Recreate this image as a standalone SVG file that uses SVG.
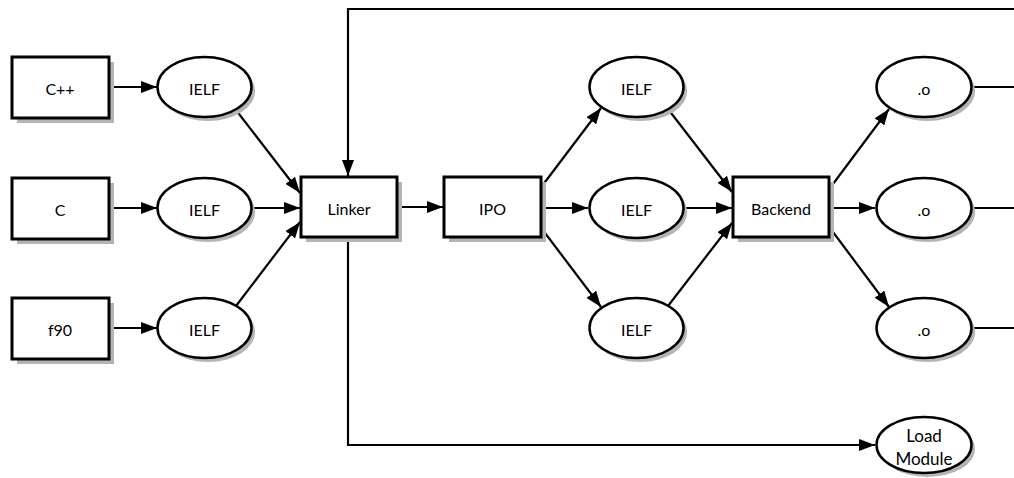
<svg xmlns="http://www.w3.org/2000/svg" width="1014" height="478" viewBox="0 0 1014 478">
  <style>
    .box { fill: #fff; stroke: #000; stroke-width: 3; }
    .ell { fill: #fff; stroke: #000; stroke-width: 2.5; }
    .shadow { fill: #b4b4b4; stroke: none; }
    .lbl { font-family: "Lato", "Liberation Sans", sans-serif; font-size: 16px; fill: #000; text-anchor: middle; dominant-baseline: central; }
    .big { font-size: 17px; }
    .edge { fill: none; stroke: #000; stroke-width: 2.2; }
    .arr { marker-end: url(#head); }
  </style>
  <defs>
    <marker id="head" viewBox="0 0 16 12" refX="16" refY="6" markerWidth="16" markerHeight="12" markerUnits="userSpaceOnUse" orient="auto">
      <path d="M0,0 L16,6 L0,12 Z" fill="#000"/>
    </marker>
  </defs>
  <rect width="1014" height="478" fill="#fff"/>

  <!-- connectors -->
  <g id="connectors">
    <line class="edge arr" x1="109" y1="87" x2="157" y2="87"/>
    <line class="edge arr" x1="109" y1="208" x2="157" y2="208"/>
    <line class="edge arr" x1="109" y1="328" x2="157" y2="328"/>
    <line class="edge arr" x1="236" y1="110" x2="300" y2="193"/>
    <line class="edge arr" x1="252" y1="208" x2="300" y2="208"/>
    <line class="edge arr" x1="236" y1="306" x2="300" y2="222"/>
    <polyline class="edge arr" points="1014,9 348,9 348,176"/>
    <polyline class="edge arr" points="348,238 348,445 875,445"/>
    <line class="edge arr" x1="398" y1="207" x2="443" y2="207"/>
    <line class="edge arr" x1="542" y1="186" x2="601" y2="108"/>
    <line class="edge arr" x1="542" y1="208" x2="588" y2="208"/>
    <line class="edge arr" x1="542" y1="229" x2="601" y2="307"/>
    <line class="edge arr" x1="668" y1="109" x2="732" y2="192"/>
    <line class="edge arr" x1="685" y1="208" x2="732" y2="208"/>
    <line class="edge arr" x1="668" y1="306" x2="732" y2="223"/>
    <line class="edge arr" x1="830" y1="188" x2="889" y2="109"/>
    <line class="edge arr" x1="830" y1="208" x2="875" y2="208"/>
    <line class="edge arr" x1="830" y1="228" x2="889" y2="307"/>
    <line class="edge" x1="972" y1="87" x2="1014" y2="87"/>
    <line class="edge" x1="972" y1="208" x2="1014" y2="208"/>
    <line class="edge" x1="972" y1="328" x2="1014" y2="328"/>
  </g>

  <!-- source files -->
  <g id="src-cpp">
    <rect class="shadow" x="17" y="62" width="97" height="61"/>
    <rect class="box" x="12" y="57" width="97" height="61"/>
    <text class="lbl" x="60" y="88">C++</text>
  </g>
  <g id="src-c">
    <rect class="shadow" x="17" y="183" width="97" height="61"/>
    <rect class="box" x="12" y="178" width="97" height="61"/>
    <text class="lbl" x="60" y="209">C</text>
  </g>
  <g id="src-f90">
    <rect class="shadow" x="17" y="303" width="97" height="61"/>
    <rect class="box" x="12" y="298" width="97" height="61"/>
    <text class="lbl" x="60" y="329">f90</text>
  </g>

  <!-- front-end IELF outputs -->
  <g id="ielf-1">
    <ellipse class="shadow" cx="208" cy="91" rx="47" ry="30"/>
    <ellipse class="ell" cx="204.5" cy="87" rx="47" ry="30"/>
    <text class="lbl" x="204.5" y="88">IELF</text>
  </g>
  <g id="ielf-2">
    <ellipse class="shadow" cx="208" cy="212" rx="47" ry="30"/>
    <ellipse class="ell" cx="204.5" cy="208" rx="47" ry="30"/>
    <text class="lbl" x="204.5" y="209">IELF</text>
  </g>
  <g id="ielf-3">
    <ellipse class="shadow" cx="208" cy="332" rx="47" ry="30"/>
    <ellipse class="ell" cx="204.5" cy="328" rx="47" ry="30"/>
    <text class="lbl" x="204.5" y="329">IELF</text>
  </g>

  <!-- linker and IPO -->
  <g id="linker">
    <rect class="shadow" x="306" y="182" width="96" height="60"/>
    <rect class="box" x="301" y="177" width="96" height="60"/>
    <text class="lbl" x="349" y="208">Linker</text>
  </g>
  <g id="ipo">
    <rect class="shadow" x="449" y="182" width="97" height="60"/>
    <rect class="box" x="444" y="177" width="97" height="60"/>
    <text class="lbl" x="492.5" y="208">IPO</text>
  </g>

  <!-- IPO IELF outputs -->
  <g id="ipo-ielf-1">
    <ellipse class="shadow" cx="640" cy="91" rx="47" ry="30"/>
    <ellipse class="ell" cx="636.5" cy="87" rx="47" ry="30"/>
    <text class="lbl" x="636.5" y="88">IELF</text>
  </g>
  <g id="ipo-ielf-2">
    <ellipse class="shadow" cx="640" cy="212" rx="47" ry="30"/>
    <ellipse class="ell" cx="636.5" cy="208" rx="47" ry="30"/>
    <text class="lbl" x="636.5" y="209">IELF</text>
  </g>
  <g id="ipo-ielf-3">
    <ellipse class="shadow" cx="640" cy="332" rx="47" ry="30"/>
    <ellipse class="ell" cx="636.5" cy="328" rx="47" ry="30"/>
    <text class="lbl" x="636.5" y="329">IELF</text>
  </g>

  <!-- backend -->
  <g id="backend">
    <rect class="shadow" x="738" y="182" width="96" height="60"/>
    <rect class="box" x="733" y="177" width="96" height="60"/>
    <text class="lbl" x="781" y="208">Backend</text>
  </g>

  <!-- object files -->
  <g id="obj-1">
    <ellipse class="shadow" cx="927.5" cy="91" rx="47.5" ry="30"/>
    <ellipse class="ell" cx="924" cy="87" rx="47.5" ry="30"/>
    <text class="lbl" x="924" y="88">.o</text>
  </g>
  <g id="obj-2">
    <ellipse class="shadow" cx="927.5" cy="212" rx="47.5" ry="30"/>
    <ellipse class="ell" cx="924" cy="208" rx="47.5" ry="30"/>
    <text class="lbl" x="924" y="209">.o</text>
  </g>
  <g id="obj-3">
    <ellipse class="shadow" cx="927.5" cy="332" rx="47.5" ry="30"/>
    <ellipse class="ell" cx="924" cy="328" rx="47.5" ry="30"/>
    <text class="lbl" x="924" y="329">.o</text>
  </g>

  <!-- load module -->
  <g id="load-module">
    <ellipse class="shadow" cx="927.5" cy="449" rx="47.5" ry="28"/>
    <ellipse class="ell" cx="924" cy="445" rx="47.5" ry="28"/>
    <text class="lbl big" x="924" y="435">Load</text>
    <text class="lbl big" x="924" y="458">Module</text>
  </g>
</svg>
